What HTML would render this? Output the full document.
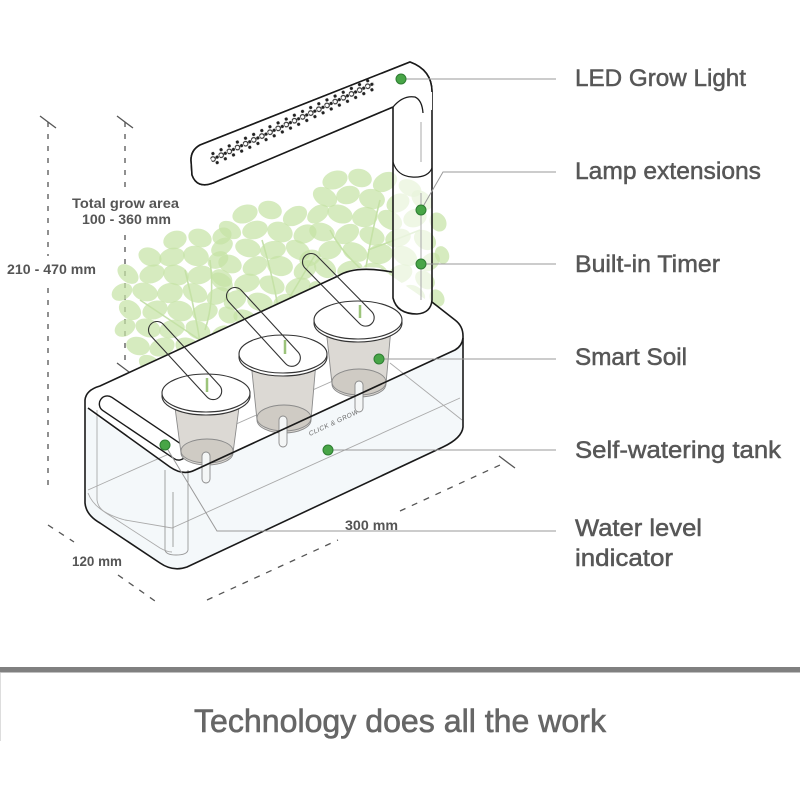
<!DOCTYPE html>
<html><head><meta charset="utf-8"><style>
html,body{margin:0;padding:0;background:#fff;}
svg{display:block;}
</style></head><body>
<svg width="800" height="800" viewBox="0 0 800 800" xmlns="http://www.w3.org/2000/svg">
<defs>
<pattern id="dots" patternUnits="userSpaceOnUse" x="0" y="-7.5" width="9" height="15">
<circle cx="4.5" cy="2.5" r="1.6" fill="#222"/>
<circle cx="2.2" cy="7.5" r="2.3" fill="none" stroke="#222" stroke-width="1.1"/>
<circle cx="6.8" cy="7.5" r="1.6" fill="#222"/>
<circle cx="4.5" cy="12.5" r="1.6" fill="#222"/>
</pattern>
<clipPath id="lid1"><ellipse cx="206" cy="393" rx="44" ry="19"/></clipPath>
<clipPath id="lid2"><ellipse cx="283" cy="354" rx="44" ry="19"/></clipPath>
<clipPath id="lid3"><ellipse cx="358" cy="320" rx="44" ry="19"/></clipPath>
</defs>
<rect width="800" height="800" fill="#fff"/>

<!-- dimension lines -->
<g stroke="#555" stroke-width="1.3" fill="none">
<path d="M48,122 V256 M48,288 V492" stroke-dasharray="5 7"/>
<path d="M40,116 L56,128"/>
<path d="M125,122 V187 M125,235 V367" stroke-dasharray="5 7"/>
<path d="M117,116 L133,128 M117,363 L133,375"/>
<path d="M48,525 L74,542 M118,575 L155,601" stroke-dasharray="6 7"/>
<path d="M207,600 L338,540 M400,511 L500,465" stroke-dasharray="6 7"/>
<path d="M499,456 L515,468"/>
</g>
<g font-family="Liberation Sans, sans-serif" font-weight="bold" font-size="14" fill="#555">
<text x="72" y="208" textLength="107" lengthAdjust="spacingAndGlyphs">Total grow area</text>
<text x="82" y="224" textLength="89" lengthAdjust="spacingAndGlyphs">100 - 360 mm</text>
<text x="7" y="274" textLength="89" lengthAdjust="spacingAndGlyphs">210 - 470 mm</text>
<text x="72" y="566" textLength="50" lengthAdjust="spacingAndGlyphs">120 mm</text>
<text x="345" y="530" textLength="53" lengthAdjust="spacingAndGlyphs">300 mm</text>
</g>

<!-- plants -->
<g stroke="#c6e0ac" stroke-width="1.6" fill="none">
<path d="M207,390 Q200,330 185,270"/><path d="M200,340 Q170,320 140,300"/><path d="M205,330 Q215,300 210,260"/>
<path d="M284,355 Q280,300 262,240"/><path d="M282,310 Q300,280 315,255"/>
<path d="M359,318 Q365,260 380,200"/><path d="M362,270 Q340,250 330,230"/><path d="M368,250 Q395,240 420,230"/>
</g>
<g fill="#c4e2a4" fill-opacity="0.7">
<!-- right cluster -->
<ellipse cx="335" cy="180" rx="13" ry="9" transform="rotate(-20 335 180)"/>
<ellipse cx="360" cy="178" rx="12" ry="9" transform="rotate(15 360 178)"/>
<ellipse cx="385" cy="182" rx="13" ry="9" transform="rotate(-30 385 182)"/>
<ellipse cx="410" cy="188" rx="12" ry="8" transform="rotate(25 410 188)"/>
<ellipse cx="325" cy="197" rx="13" ry="9" transform="rotate(30 325 197)"/>
<ellipse cx="348" cy="195" rx="12" ry="9" transform="rotate(-15 348 195)"/>
<ellipse cx="372" cy="199" rx="13" ry="10" transform="rotate(10 372 199)"/>
<ellipse cx="398" cy="203" rx="12" ry="9" transform="rotate(-25 398 203)"/>
<ellipse cx="422" cy="200" rx="12" ry="8" transform="rotate(40 422 200)"/>
<ellipse cx="318" cy="214" rx="12" ry="8" transform="rotate(-35 318 214)"/>
<ellipse cx="340" cy="214" rx="13" ry="9" transform="rotate(20 340 214)"/>
<ellipse cx="365" cy="217" rx="13" ry="10" transform="rotate(-10 365 217)"/>
<ellipse cx="390" cy="220" rx="13" ry="9" transform="rotate(30 390 220)"/>
<ellipse cx="415" cy="218" rx="12" ry="9" transform="rotate(-20 415 218)"/>
<ellipse cx="438" cy="222" rx="10" ry="8" transform="rotate(60 438 222)"/>
<ellipse cx="322" cy="232" rx="13" ry="9" transform="rotate(15 322 232)"/>
<ellipse cx="347" cy="234" rx="13" ry="9" transform="rotate(-30 347 234)"/>
<ellipse cx="372" cy="236" rx="13" ry="9" transform="rotate(20 372 236)"/>
<ellipse cx="398" cy="238" rx="13" ry="9" transform="rotate(-15 398 238)"/>
<ellipse cx="425" cy="240" rx="12" ry="9" transform="rotate(35 425 240)"/>
<ellipse cx="442" cy="255" rx="9" ry="7" transform="rotate(70 442 255)"/>
<ellipse cx="330" cy="250" rx="12" ry="9" transform="rotate(-20 330 250)"/>
<ellipse cx="355" cy="252" rx="13" ry="9" transform="rotate(25 355 252)"/>
<ellipse cx="380" cy="254" rx="13" ry="10" transform="rotate(-10 380 254)"/>
<ellipse cx="405" cy="256" rx="13" ry="9" transform="rotate(30 405 256)"/>
<ellipse cx="430" cy="262" rx="11" ry="8" transform="rotate(-40 430 262)"/>
<ellipse cx="325" cy="268" rx="12" ry="9" transform="rotate(35 325 268)"/>
<ellipse cx="350" cy="270" rx="13" ry="9" transform="rotate(-15 350 270)"/>
<ellipse cx="375" cy="272" rx="13" ry="9" transform="rotate(15 375 272)"/>
<ellipse cx="400" cy="274" rx="13" ry="9" transform="rotate(-25 400 274)"/>
<ellipse cx="425" cy="280" rx="11" ry="8" transform="rotate(40 425 280)"/>
<ellipse cx="335" cy="287" rx="12" ry="9" transform="rotate(-20 335 287)"/>
<ellipse cx="360" cy="288" rx="13" ry="9" transform="rotate(20 360 288)"/>
<ellipse cx="388" cy="290" rx="13" ry="9" transform="rotate(-10 388 290)"/>
<ellipse cx="414" cy="294" rx="12" ry="8" transform="rotate(30 414 294)"/>
<ellipse cx="437" cy="298" rx="9" ry="7" transform="rotate(60 437 298)"/>
<ellipse cx="330" cy="304" rx="12" ry="8" transform="rotate(25 330 304)"/>
<ellipse cx="355" cy="305" rx="12" ry="8" transform="rotate(-25 355 305)"/>
<ellipse cx="380" cy="306" rx="12" ry="8" transform="rotate(15 380 306)"/>
<ellipse cx="405" cy="310" rx="11" ry="8" transform="rotate(-20 405 310)"/>
<!-- middle cluster -->
<ellipse cx="245" cy="214" rx="13" ry="9" transform="rotate(-20 245 214)"/>
<ellipse cx="270" cy="210" rx="12" ry="9" transform="rotate(15 270 210)"/>
<ellipse cx="295" cy="216" rx="13" ry="9" transform="rotate(-30 295 216)"/>
<ellipse cx="230" cy="230" rx="12" ry="8" transform="rotate(30 230 230)"/>
<ellipse cx="255" cy="230" rx="13" ry="9" transform="rotate(-15 255 230)"/>
<ellipse cx="280" cy="232" rx="13" ry="10" transform="rotate(20 280 232)"/>
<ellipse cx="305" cy="234" rx="12" ry="9" transform="rotate(-25 305 234)"/>
<ellipse cx="222" cy="247" rx="12" ry="8" transform="rotate(-35 222 247)"/>
<ellipse cx="248" cy="248" rx="13" ry="9" transform="rotate(15 248 248)"/>
<ellipse cx="273" cy="250" rx="13" ry="9" transform="rotate(-10 273 250)"/>
<ellipse cx="298" cy="250" rx="13" ry="9" transform="rotate(30 298 250)"/>
<ellipse cx="310" cy="258" rx="11" ry="8" transform="rotate(-20 310 258)"/>
<ellipse cx="230" cy="264" rx="12" ry="9" transform="rotate(20 230 264)"/>
<ellipse cx="255" cy="266" rx="13" ry="9" transform="rotate(-25 255 266)"/>
<ellipse cx="280" cy="266" rx="13" ry="10" transform="rotate(10 280 266)"/>
<ellipse cx="305" cy="270" rx="12" ry="9" transform="rotate(-30 305 270)"/>
<ellipse cx="222" cy="282" rx="12" ry="8" transform="rotate(35 222 282)"/>
<ellipse cx="247" cy="283" rx="13" ry="9" transform="rotate(-15 247 283)"/>
<ellipse cx="272" cy="285" rx="13" ry="9" transform="rotate(20 272 285)"/>
<ellipse cx="298" cy="287" rx="13" ry="9" transform="rotate(-20 298 287)"/>
<ellipse cx="318" cy="290" rx="10" ry="8" transform="rotate(40 318 290)"/>
<ellipse cx="235" cy="300" rx="12" ry="9" transform="rotate(-30 235 300)"/>
<ellipse cx="260" cy="302" rx="13" ry="9" transform="rotate(15 260 302)"/>
<ellipse cx="285" cy="303" rx="12" ry="9" transform="rotate(-15 285 303)"/>
<ellipse cx="310" cy="310" rx="12" ry="8" transform="rotate(25 310 310)"/>
<ellipse cx="245" cy="318" rx="12" ry="8" transform="rotate(20 245 318)"/>
<ellipse cx="270" cy="320" rx="12" ry="8" transform="rotate(-20 270 320)"/>
<ellipse cx="295" cy="322" rx="11" ry="8" transform="rotate(15 295 322)"/>
<!-- left cluster -->
<ellipse cx="175" cy="240" rx="12" ry="9" transform="rotate(-20 175 240)"/>
<ellipse cx="200" cy="238" rx="12" ry="9" transform="rotate(20 200 238)"/>
<ellipse cx="222" cy="236" rx="10" ry="8" transform="rotate(-30 222 236)"/>
<ellipse cx="150" cy="257" rx="12" ry="9" transform="rotate(25 150 257)"/>
<ellipse cx="172" cy="257" rx="13" ry="9" transform="rotate(-15 172 257)"/>
<ellipse cx="196" cy="256" rx="13" ry="10" transform="rotate(15 196 256)"/>
<ellipse cx="218" cy="260" rx="11" ry="8" transform="rotate(-30 218 260)"/>
<ellipse cx="128" cy="274" rx="12" ry="8" transform="rotate(40 128 274)"/>
<ellipse cx="152" cy="274" rx="13" ry="9" transform="rotate(-20 152 274)"/>
<ellipse cx="176" cy="275" rx="13" ry="10" transform="rotate(20 176 275)"/>
<ellipse cx="200" cy="275" rx="13" ry="9" transform="rotate(-15 200 275)"/>
<ellipse cx="222" cy="278" rx="11" ry="8" transform="rotate(30 222 278)"/>
<ellipse cx="122" cy="292" rx="11" ry="8" transform="rotate(-30 122 292)"/>
<ellipse cx="145" cy="292" rx="13" ry="9" transform="rotate(15 145 292)"/>
<ellipse cx="170" cy="293" rx="13" ry="10" transform="rotate(-10 170 293)"/>
<ellipse cx="195" cy="293" rx="13" ry="9" transform="rotate(25 195 293)"/>
<ellipse cx="218" cy="296" rx="12" ry="8" transform="rotate(-25 218 296)"/>
<ellipse cx="130" cy="310" rx="12" ry="9" transform="rotate(35 130 310)"/>
<ellipse cx="155" cy="310" rx="13" ry="9" transform="rotate(-20 155 310)"/>
<ellipse cx="180" cy="311" rx="13" ry="10" transform="rotate(15 180 311)"/>
<ellipse cx="205" cy="312" rx="13" ry="9" transform="rotate(-15 205 312)"/>
<ellipse cx="228" cy="315" rx="10" ry="8" transform="rotate(30 228 315)"/>
<ellipse cx="125" cy="328" rx="11" ry="8" transform="rotate(-30 125 328)"/>
<ellipse cx="148" cy="328" rx="13" ry="9" transform="rotate(20 148 328)"/>
<ellipse cx="172" cy="329" rx="13" ry="9" transform="rotate(-15 172 329)"/>
<ellipse cx="198" cy="330" rx="13" ry="9" transform="rotate(25 198 330)"/>
<ellipse cx="222" cy="334" rx="11" ry="8" transform="rotate(-25 222 334)"/>
<ellipse cx="138" cy="346" rx="12" ry="9" transform="rotate(15 138 346)"/>
<ellipse cx="162" cy="347" rx="13" ry="9" transform="rotate(-20 162 347)"/>
<ellipse cx="188" cy="347" rx="13" ry="9" transform="rotate(20 188 347)"/>
<ellipse cx="212" cy="350" rx="12" ry="8" transform="rotate(-30 212 350)"/>
<ellipse cx="150" cy="364" rx="12" ry="8" transform="rotate(30 150 364)"/>
<ellipse cx="175" cy="364" rx="12" ry="9" transform="rotate(-15 175 364)"/>
<ellipse cx="200" cy="366" rx="12" ry="8" transform="rotate(15 200 366)"/>
<ellipse cx="225" cy="368" rx="10" ry="7" transform="rotate(-25 225 368)"/>
<ellipse cx="160" cy="381" rx="11" ry="8" transform="rotate(-20 160 381)"/>
<ellipse cx="185" cy="382" rx="11" ry="8" transform="rotate(25 185 382)"/>
</g>

<!-- tank body -->
<path d="M85,405 Q86,390 100,386 L338,276 Q355,265 380,268 L455,320 Q463,326 463,336 L463,427 Q462,438 443,447 L187,567 Q173,572 160,563 L100,523 Q86,515 85,503 Z" fill="#f4f8fa"/>
<path d="M85,405 Q86,390 100,386 L338,276 Q355,265 380,268 L455,320 Q463,326 463,336 Q463,344 455,350 L195,470 Q183,476 170,467 L90,412 Z" fill="#fff"/>
<g stroke="#aaa" stroke-width="0.9" fill="none">
<path d="M97,410 V500 Q98,508 106,513 L160,548 Q167,552 172,552"/>
<path d="M88,493 Q95,512 125,520 L172,528 L460,398"/>
<path d="M88,490 L380,360"/>
<path d="M390,363 L462,420"/>
</g>
<path d="M85,410 L85,400 Q86,390 100,386 L338,276 Q355,265 392,272" stroke="#1a1a1a" stroke-width="1.6" fill="none"/>
<!-- slot -->
<rect x="-51" y="-8" width="102" height="16" rx="8" transform="translate(143,428) rotate(34)" fill="#fff" stroke="#1a1a1a" stroke-width="1.4"/>
<!-- water level tube -->
<g stroke="#999" stroke-width="0.9" fill="none">
<path d="M165,470 V550 Q166,555 176,555 Q187,555 188,550 V470"/>
<path d="M173,492 V547"/>
</g>
<text x="0" y="0" transform="translate(310,436) rotate(-25)" font-family="Liberation Sans, sans-serif" font-size="6.5" font-style="italic" fill="#666" letter-spacing="0.5">CLICK &amp; GROW</text>

<!-- cups -->
<g stroke="#8a8a8a" stroke-width="0.9">
<path d="M174,400 L181,453 A26,12 0 0 0 233,453 L240,400 Z" fill="#dcd9d4"/>
<ellipse cx="207" cy="451" rx="26" ry="12" fill="#cfcbc4"/>
<path d="M251,362 L257,420 A27,13 0 0 0 311,420 L316,362 Z" fill="#dcd9d4"/>
<ellipse cx="284" cy="418" rx="27" ry="13" fill="#cfcbc4"/>
<path d="M326,328 L332,384 A27,13 0 0 0 386,384 L391,328 Z" fill="#dcd9d4"/>
<ellipse cx="359" cy="382" rx="27" ry="13" fill="#cfcbc4"/>
<rect x="202" y="452" width="8" height="31" rx="4" fill="#f4f6f6"/>
<rect x="279" y="416" width="8" height="31" rx="4" fill="#f4f6f6"/>
<rect x="355" y="381" width="8" height="31" rx="4" fill="#f4f6f6"/>
</g>
<!-- lids -->
<g stroke="#333" stroke-width="1.1" fill="#fff">
<ellipse cx="206" cy="396" rx="44" ry="19"/><ellipse cx="206" cy="393" rx="44" ry="19"/>
<ellipse cx="283" cy="357" rx="44" ry="19"/><ellipse cx="283" cy="354" rx="44" ry="19"/>
<ellipse cx="358" cy="323" rx="44" ry="19"/><ellipse cx="358" cy="320" rx="44" ry="19"/>
</g>
<g fill="#d6d2cb">
<rect x="-8.5" y="-8.5" width="100" height="17" rx="8.5" transform="translate(157,330) rotate(47.4)" clip-path="url(#lid1)"/>
<rect x="-8.5" y="-8.5" width="101" height="17" rx="8.5" transform="translate(235,296) rotate(47.4)" clip-path="url(#lid2)"/>
<rect x="-8.5" y="-8.5" width="95" height="17" rx="8.5" transform="translate(311,262) rotate(45.5)" clip-path="url(#lid3)"/>
</g>
<g stroke="#9cc47a" stroke-width="2.5">
<path d="M207,378 V392"/><path d="M285,340 V354"/><path d="M360,305 V318"/>
</g>
<g stroke="#333" stroke-width="1.1" fill="none">
<rect x="-8.5" y="-8.5" width="100" height="17" rx="8.5" transform="translate(157,330) rotate(47.4)"/>
<rect x="-8.5" y="-8.5" width="101" height="17" rx="8.5" transform="translate(235,296) rotate(47.4)"/>
<rect x="-8.5" y="-8.5" width="95" height="17" rx="8.5" transform="translate(311,262) rotate(45.5)"/>
</g>

<!-- tank front outline -->
<g stroke="#1a1a1a" stroke-width="1.6" fill="none">
<path d="M432,302 L455,320 Q463,326 463,336 L463,427 Q462,438 443,447 L187,567 Q173,572 160,563 L100,523 Q86,515 85,503 L85,410"/>
<path d="M463,338 Q462,346 455,350 L195,470 Q183,476 170,467 L88,408"/>
</g>

<!-- lamp -->
<path d="M200,145 L410,62 Q432,70 432,92 L432,300 Q431,313 417,314 Q397,314 393,298 L393,107 L213,183 Q197,189 192,175 L191,160 Q191,150 200,145 Z" fill="#fff" fill-opacity="0.6" stroke="#1a1a1a" stroke-width="1.6"/>
<path d="M200,145 L410,62 Q432,70 432,92 L432,110 L393,107 L213,183 Q197,189 192,175 L191,160 Q191,150 200,145 Z" fill="#fff"/>
<path d="M200,145 L410,62 Q432,70 432,92 M393,107 L213,183 Q197,189 192,175 L191,160 Q191,150 200,145" fill="none" stroke="#1a1a1a" stroke-width="1.6"/>
<path d="M393,107 Q403,95 415,97 Q422,100 423,113" fill="none" stroke="#1a1a1a" stroke-width="1.3"/>
<path d="M393,162 Q397,176 412,177 Q428,178 432,168" fill="none" stroke="#1a1a1a" stroke-width="1.2"/>
<path d="M421,122 V162 M421,193 V300" stroke="#aaa" stroke-width="1"/>
<g transform="translate(211,160) rotate(-25.2)">
<rect x="0" y="-7.5" width="180" height="15" fill="url(#dots)"/>
</g>

<!-- leaders -->
<g stroke="#9a9a9a" stroke-width="1" fill="none">
<path d="M401,79 H556"/>
<path d="M421,210 L443,172 H556"/>
<path d="M421,264 H556"/>
<path d="M379,359 H556"/>
<path d="M328,450 H556"/>
<path d="M165,445 L217,531 H556"/>
</g>
<g fill="#48a547" stroke="#2e7d32" stroke-width="1">
<circle cx="401" cy="79" r="5"/><circle cx="421" cy="210" r="5"/><circle cx="421" cy="264" r="5"/>
<circle cx="379" cy="359" r="5"/><circle cx="328" cy="450" r="5"/><circle cx="165" cy="445" r="5"/>
</g>
<g font-family="Liberation Sans, sans-serif" font-size="24" fill="#575757" stroke="#575757" stroke-width="0.5">
<text x="575" y="86" textLength="171" lengthAdjust="spacingAndGlyphs">LED Grow Light</text>
<text x="575" y="179" textLength="186" lengthAdjust="spacingAndGlyphs">Lamp extensions</text>
<text x="575" y="272" textLength="145" lengthAdjust="spacingAndGlyphs">Built-in Timer</text>
<text x="575" y="365" textLength="112" lengthAdjust="spacingAndGlyphs">Smart Soil</text>
<text x="575" y="458" textLength="206" lengthAdjust="spacingAndGlyphs">Self-watering tank</text>
<text x="575" y="536" textLength="127" lengthAdjust="spacingAndGlyphs">Water level</text>
<text x="575" y="566" textLength="98" lengthAdjust="spacingAndGlyphs">indicator</text>
</g>

<!-- bottom -->
<rect x="0" y="667" width="800" height="5.5" fill="#808080"/>
<rect x="0" y="673" width="1" height="68" fill="#ddd"/>
<text x="194" y="732" textLength="412" lengthAdjust="spacingAndGlyphs" font-family="Liberation Sans, sans-serif" font-size="32" fill="#666" stroke="#666" stroke-width="0.6">Technology does all the work</text>
</svg>
</body></html>
